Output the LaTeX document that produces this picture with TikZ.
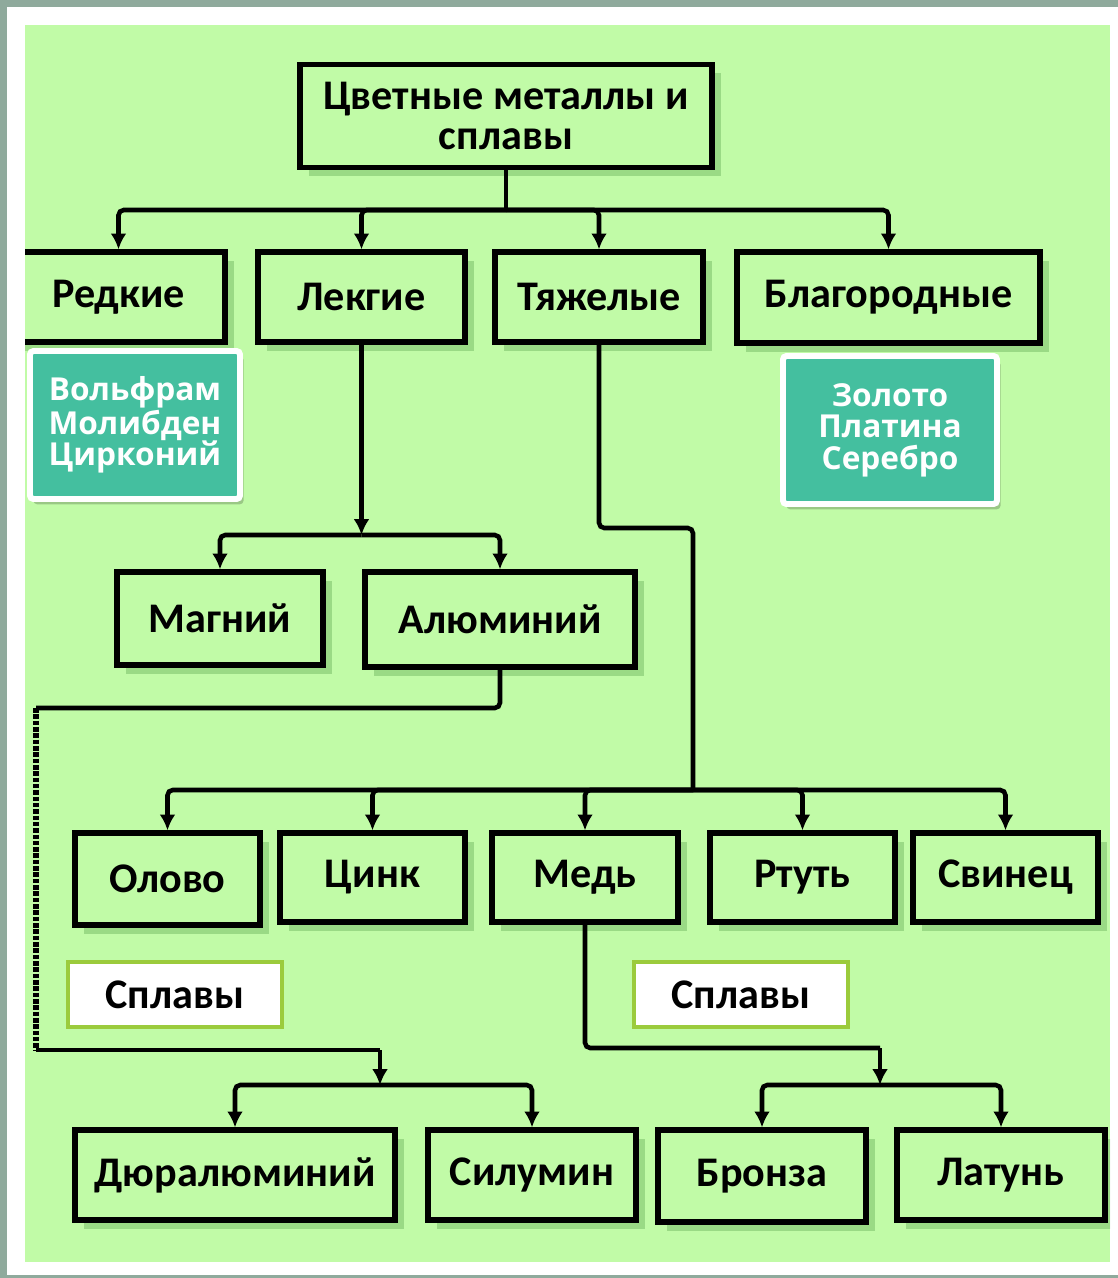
\documentclass[tikz,border=0pt]{standalone}
\usepackage{fontspec}
\setmainfont{Carlito}
\newfontfamily\opensans{Open Sans}
\usetikzlibrary{arrows.meta,shadows}
\definecolor{fongreen}{HTML}{C1FBA7}
\definecolor{metteal}{HTML}{44BF9F}
\definecolor{splavgreen}{HTML}{9BCB3C}
\definecolor{ramka}{HTML}{8FAA9C}
\begin{document}
\begin{tikzpicture}[x=0.02cm,y=-0.02cm,
sz/.style 2 args={minimum width=#1*0.02cm,minimum height=#2*0.02cm},
box/.style={draw,line width=3pt,fill=fongreen,inner sep=0pt,align=center,
  font=\bfseries\fontsize{24}{23}\selectfont,
  drop shadow={shadow xshift=5pt,shadow yshift=-5pt,fill=green!35!black,opacity=.2}},
met/.style={draw=white,line width=3.4pt,fill=metteal,rounded corners=2pt,text=white,
  inner sep=0pt,align=center,font=\opensans\bfseries\fontsize{18}{18}\selectfont,
  drop shadow={shadow xshift=2pt,shadow yshift=-3pt,fill=black,opacity=.2}},
splav/.style={draw=splavgreen,line width=2.4pt,fill=white,inner sep=0pt,
  font=\bfseries\fontsize{24}{23}\selectfont},
ln/.style={line width=2.6pt,rounded corners=3pt},
arr/.style={ln,-{Latex[length=9pt,width=9pt]}}]
\useasboundingbox (0,0) rectangle (1118,1278);
\fill[ramka] (0,0) rectangle (1118,1278);
\fill[white] (7,7) rectangle (1118,1275);
\fill[fongreen] (25,25) rectangle (1110,1262);
\begin{scope}
\clip (25,25) rectangle (1110,1262);
\node[box,sz={412}{103}] (cm) at (506,116) {Цветные металлы и\\сплавы};
\node[box,sz={213}{90}] (red) at (118.5,297) {Редкие};
\node[box,sz={207}{90}] (leg) at (361.5,297) {Лекгие};
\node[box,sz={208}{90}] (tyazh) at (599,297) {Тяжелые};
\node[box,sz={303}{91}] (blag) at (888.5,297.5) {Благородные};
\node[met,sz={210}{148}] (vmc) at (135,425) {Вольфрам\\Молибден\\Цирконий};
\node[met,sz={214}{148}] (zps) at (890,430) {Золото\\Платина\\Серебро};
\node[box,sz={206}{93}] (mag) at (220,618.5) {Магний};
\node[box,sz={270}{95}] (alu) at (500,619.5) {Алюминий};
\node[box,sz={185}{92}] (olovo) at (167.5,879) {Олово};
\node[box,sz={185}{89}] (cink) at (372.5,877.5) {Цинк};
\node[box,sz={186}{89}] (med) at (585,877.5) {Медь};
\node[box,sz={185}{89}] (rtut) at (802.5,877.5) {Ртуть};
\node[box,sz={185}{89}] (svin) at (1005.5,877.5) {Свинец};
\node[splav,sz={214}{65}] (spl1) at (175,994.5) {Сплавы};
\node[splav,sz={214}{65}] (spl2) at (741,994.5) {Сплавы};
\node[box,sz={320}{90}] (dural) at (235,1175) {Дюралюминий};
\node[box,sz={208}{90}] (silum) at (532,1175) {Силумин};
\node[box,sz={208}{92}] (bronza) at (762,1176) {Бронза};
\node[box,sz={208}{90}] (latun) at (1001,1175) {Латунь};
\coordinate (j1) at (506,210);
\coordinate (j2) at (361.5,535);
\coordinate (t1) at (599,528);
\coordinate (t2) at (693,528);
\coordinate (j3) at (693,790);
\coordinate (a1) at (500,708);
\coordinate (a2) at (36,708);
\coordinate (a3) at (36,1050);
\coordinate (a4) at (380,1050);
\coordinate (j4) at (380,1085);
\coordinate (m1) at (585,1048);
\coordinate (m2) at (880,1048);
\coordinate (j5) at (880,1085);
\draw[ln] (cm) -- (j1);
\draw[arr] (j1) -| (red);
\draw[arr] (j1) -| (leg);
\draw[arr] (j1) -| (tyazh);
\draw[arr] (j1) -| (blag);
\draw[arr] (leg) -- (j2);
\draw[arr] (j2) -| (mag);
\draw[arr] (j2) -| (alu);
\draw[ln] (tyazh) -- (t1) -- (t2) -- (j3);
\draw[arr] (j3) -| (olovo);
\draw[arr] (j3) -| (cink);
\draw[arr] (j3) -| (med);
\draw[arr] (j3) -| (rtut);
\draw[arr] (j3) -| (svin);
\draw[ln] (alu) -- (a1) -- (a2);
\draw[line width=3.4pt,dash pattern=on 2.6pt off 1pt] (a2) -- (a3);
\draw[ln] (a3) -- (a4);
\draw[arr] (a4) -- (j4);
\draw[arr] (j4) -| (dural);
\draw[arr] (j4) -| (silum);
\draw[ln] (med) -- (m1) -- (m2);
\draw[arr] (m2) -- (j5);
\draw[arr] (j5) -| (bronza);
\draw[arr] (j5) -| (latun);
\end{scope}
\end{tikzpicture}
\end{document}
